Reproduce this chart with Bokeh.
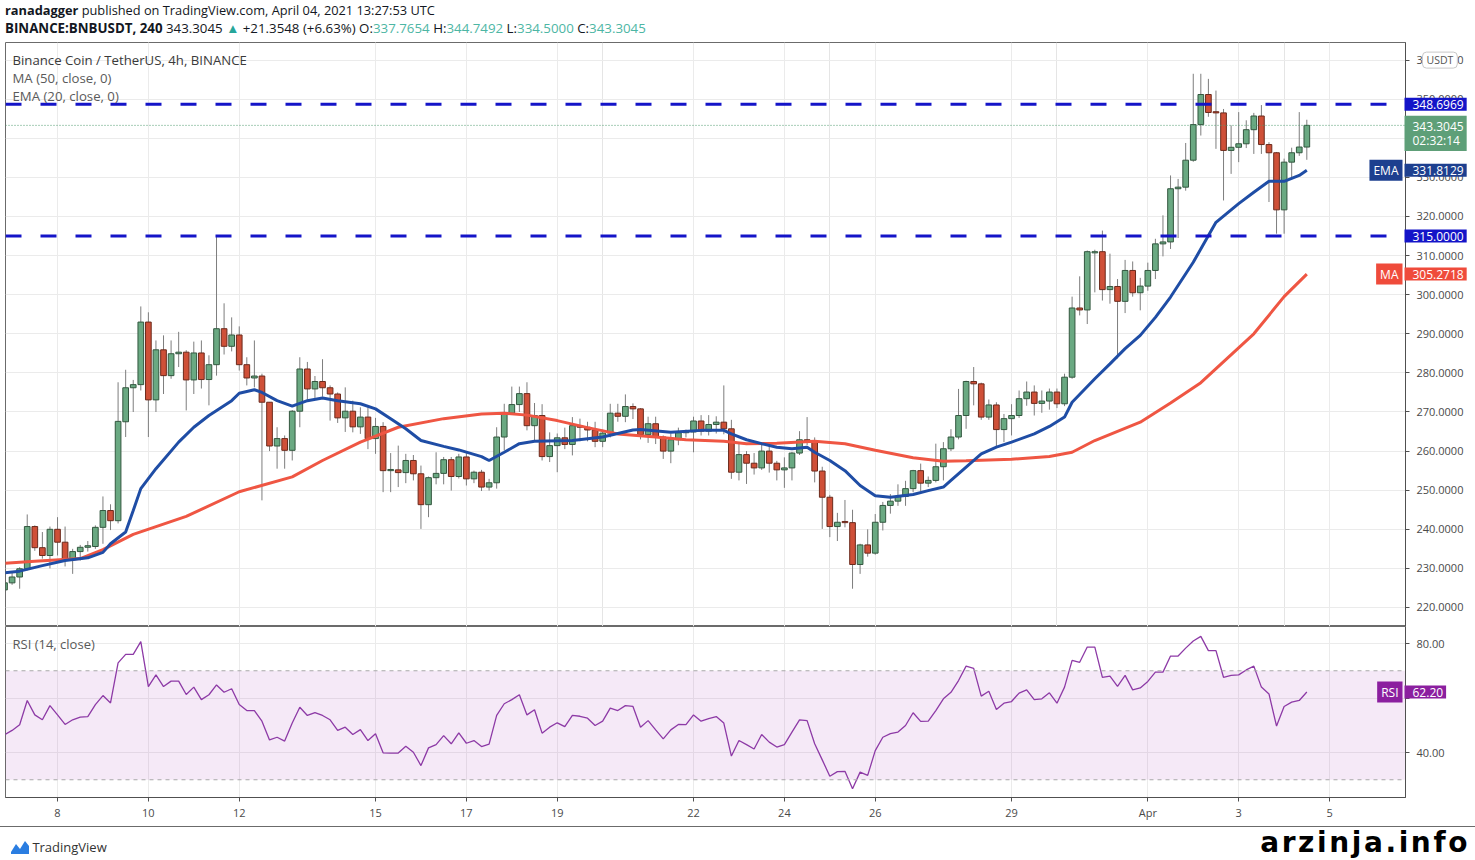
import numpy as np
from bokeh.plotting import figure
from bokeh.models import (Range1d, FixedTicker, Grid, Span, Label, BoxAnnotation,
                          PrintfTickFormatter, Div, ColumnDataSource)
from bokeh.layouts import column
from bokeh.embed import file_html
from bokeh.resources import INLINE

# ---------------- data ----------------
first_bar_day = 6 + 20 / 24      # first bar: 6 March 2021 20:00 UTC, in "day of March" units
bar_hours = 4

opens = [224.5, 226.3, 227.8, 229.9, 240.7, 235.3, 233.3, 240.0, 236.7, 232.2,
         234.3, 235.4, 235.6, 240.5, 244.8, 242.2, 267.5, 276.2, 277.0, 293.0,
         273.1, 285.9, 279.3, 284.9, 285.3, 278.2, 285.1, 278.3, 282.1, 291.3,
         286.8, 289.7, 282.1, 278.7, 279.2, 272.5, 261.3, 263.2, 260.2, 270.2,
         281.0, 275.9, 277.8, 276.2, 274.6, 268.5, 270.2, 266.2, 268.7, 263.2,
         266.3, 255.0, 255.2, 254.5, 257.6, 254.2, 246.3, 253.2, 254.3, 257.8,
         253.5, 258.5, 252.9, 254.6, 250.8, 251.9, 263.6, 269.7, 271.9, 274.7,
         266.5, 269.1, 258.6, 261.4, 263.4, 261.7, 266.5, 266.1, 265.4, 262.5,
         264.6, 269.7, 268.9, 271.4, 270.8, 264.2, 267.0, 263.6, 260.0, 262.9,
         264.7, 264.9, 267.7, 265.1, 266.8, 267.4, 265.7, 254.6, 259.1, 256.9,
         255.7, 260.0, 256.9, 255.2, 255.7, 259.5, 262.9, 262.5, 254.9, 248.2,
         240.7, 241.8, 241.7, 231.0, 236.0, 233.9, 241.8, 246.1, 247.2, 248.4,
         250.4, 255.0, 251.8, 252.5, 256.0, 260.6, 263.6, 269.1, 277.8, 277.2,
         268.7, 271.8, 265.5, 268.3, 269.1, 273.4, 275.1, 272.2, 272.8, 275.1,
         272.1, 278.9, 296.6, 296.1, 310.7, 311.0, 301.3, 302.1, 298.3, 306.2,
         300.5, 302.2, 306.2, 313.0, 313.5, 327.1, 327.5, 334.4, 343.5, 351.2,
         346.6, 346.5, 336.9, 337.7, 338.6, 342.2, 345.7, 338.4, 336.3, 321.7,
         333.9, 336.3, 337.7654]
highs = [227.5, 229.0, 230.3, 243.8, 241.0, 239.3, 240.7, 243.1, 240.7, 235.0,
         236.0, 237.0, 241.0, 248.4, 246.4, 277.6, 280.8, 278.2, 297.0, 295.5,
         288.3, 289.6, 288.3, 290.5, 285.8, 288.0, 288.3, 284.5, 315.0, 297.8,
         294.2, 291.9, 284.0, 288.3, 279.8, 272.5, 266.1, 264.0, 270.5, 284.0,
         282.8, 279.2, 283.5, 276.8, 275.0, 276.3, 272.9, 271.2, 271.2, 268.5,
         267.4, 259.5, 261.4, 259.3, 259.0, 256.3, 253.5, 259.7, 258.5, 258.5,
         259.3, 260.0, 255.0, 255.2, 252.9, 266.1, 272.1, 276.5, 276.5, 277.6,
         272.3, 272.0, 264.8, 264.5, 266.0, 268.7, 268.3, 267.5, 267.5, 265.5,
         272.1, 272.1, 274.5, 272.2, 271.0, 268.8, 268.8, 264.0, 264.5, 266.0,
         265.5, 268.8, 269.2, 269.2, 268.9, 276.8, 268.0, 261.9, 260.0, 259.5,
         262.0, 261.5, 257.5, 258.4, 259.8, 265.1, 268.7, 263.5, 256.0, 248.8,
         244.2, 247.5, 245.0, 236.3, 240.0, 243.9, 247.0, 249.0, 251.5, 252.4,
         255.2, 256.8, 253.5, 261.9, 262.3, 265.6, 275.9, 278.0, 281.5, 277.5,
         273.2, 272.5, 269.5, 272.0, 275.5, 277.8, 276.8, 275.5, 276.0, 276.0,
         279.8, 299.5, 304.7, 311.3, 311.5, 316.4, 310.5, 304.0, 308.9, 308.5,
         304.3, 308.2, 314.3, 320.3, 330.5, 329.6, 338.8, 356.5, 356.5, 355.2,
         352.2, 347.5, 343.3, 346.7, 344.6, 346.5, 348.5, 339.0, 336.5, 334.8,
         337.6, 346.7, 344.7492]
lows = [223.5, 225.8, 224.8, 229.5, 234.5, 232.5, 230.0, 233.3, 230.5, 228.6,
        232.0, 234.3, 235.0, 236.3, 239.8, 241.5, 263.6, 270.0, 275.5, 263.6,
        270.0, 274.6, 278.5, 281.5, 270.4, 274.6, 276.0, 271.7, 279.3, 284.7,
        285.5, 280.6, 276.8, 276.3, 247.4, 260.0, 255.5, 255.5, 257.6, 266.1,
        272.9, 273.6, 273.9, 267.8, 267.2, 264.9, 264.8, 264.4, 260.5, 259.3,
        249.5, 249.5, 250.8, 251.8, 252.5, 240.1, 243.1, 251.5, 251.5, 249.9,
        253.0, 251.2, 251.8, 249.8, 249.9, 250.4, 260.2, 269.3, 270.0, 265.3,
        262.8, 257.6, 257.2, 254.6, 260.5, 258.9, 262.5, 262.5, 261.0, 261.0,
        263.5, 267.5, 267.4, 268.2, 263.0, 262.1, 261.8, 258.0, 256.9, 261.5,
        263.5, 259.7, 264.0, 264.0, 264.5, 264.3, 252.9, 252.5, 251.6, 254.0,
        255.2, 254.5, 252.5, 250.6, 252.5, 259.0, 261.5, 252.0, 240.1, 238.0,
        237.0, 240.5, 224.8, 228.6, 233.0, 233.5, 239.7, 244.0, 246.0, 246.0,
        249.5, 249.8, 250.8, 252.0, 252.5, 260.0, 263.0, 265.7, 271.7, 268.0,
        268.0, 261.0, 262.3, 264.0, 268.5, 271.6, 269.1, 269.8, 270.6, 271.0,
        271.5, 278.5, 294.7, 292.5, 300.6, 298.5, 297.7, 283.7, 295.3, 299.5,
        296.0, 301.0, 304.0, 309.8, 311.7, 314.5, 326.6, 334.0, 340.7, 345.5,
        337.3, 324.1, 330.9, 333.9, 337.5, 336.0, 336.0, 323.7, 315.6, 315.6,
        329.8, 335.5, 334.5]
closes = [226.3, 227.8, 229.9, 240.7, 235.3, 233.3, 240.0, 236.7, 232.2, 234.3,
          235.4, 235.8, 240.5, 244.8, 242.2, 267.6, 276.2, 277.0, 293.0, 273.1,
          285.9, 279.3, 284.9, 285.3, 278.2, 285.1, 278.3, 282.1, 291.3, 286.8,
          289.7, 282.1, 278.7, 279.2, 272.5, 261.3, 263.2, 260.2, 270.2, 281.0,
          275.9, 277.8, 276.2, 274.6, 268.5, 270.2, 266.2, 268.7, 263.2, 266.3,
          255.0, 255.2, 254.5, 257.6, 254.2, 246.3, 253.2, 254.3, 257.8, 253.5,
          258.5, 252.9, 254.6, 250.8, 251.9, 263.6, 269.7, 271.9, 274.7, 266.5,
          269.1, 258.6, 261.4, 263.4, 261.7, 266.5, 266.1, 265.4, 262.5, 264.6,
          269.7, 268.9, 271.4, 270.8, 264.2, 267.0, 263.6, 260.0, 262.9, 264.7,
          264.9, 267.7, 265.1, 266.8, 267.4, 265.7, 254.6, 259.1, 256.9, 255.7,
          260.0, 256.9, 255.2, 255.7, 259.5, 262.9, 262.5, 254.9, 248.2, 240.7,
          241.8, 241.7, 231.0, 236.0, 233.9, 241.8, 246.1, 247.2, 248.4, 250.4,
          255.0, 251.8, 252.5, 256.0, 260.6, 263.6, 269.1, 277.8, 277.2, 268.7,
          271.8, 265.5, 268.3, 269.1, 273.4, 275.1, 272.2, 272.8, 275.1, 272.1,
          278.9, 296.6, 296.1, 311.0, 311.0, 301.3, 302.1, 298.3, 306.2, 300.5,
          302.2, 306.2, 313.0, 313.5, 327.1, 327.5, 334.4, 343.5, 351.2, 346.6,
          346.5, 336.9, 337.7, 338.6, 342.2, 345.7, 338.4, 336.3, 321.7, 333.9,
          336.3, 337.7654, 343.3045]

rsi14 = [46.5, 48.1, 50.2, 59.1, 53.8, 52.0, 57.2, 53.8, 50.3, 52.0,
         53.0, 53.2, 57.6, 60.9, 58.2, 72.9, 76.0, 76.0, 80.7, 64.2,
         68.5, 64.2, 66.2, 66.2, 61.3, 64.0, 59.4, 61.2, 64.8, 62.1,
         63.4, 57.6, 55.4, 55.4, 51.5, 44.6, 45.6, 44.2, 50.8, 56.6,
         53.6, 54.6, 53.6, 52.0, 48.1, 49.3, 46.6, 48.4, 44.4, 46.9,
         39.9, 39.8, 39.8, 42.3, 40.1, 35.2, 41.7, 42.9, 46.2, 43.2,
         47.2, 43.4, 44.4, 42.2, 43.1, 53.6, 57.9, 59.4, 61.2, 53.8,
         55.7, 47.1, 49.3, 50.9, 49.5, 53.6, 53.3, 52.6, 49.9, 51.5,
         56.3, 55.4, 57.2, 56.9, 49.3, 51.7, 48.3, 45.0, 48.3, 50.3,
         50.2, 53.8, 51.5, 52.4, 53.2, 50.8, 38.7, 44.4, 42.9, 41.3,
         46.6, 43.8, 42.0, 42.9, 47.5, 52.0, 51.7, 43.2, 37.3, 31.3,
         33.0, 33.1, 26.7, 32.8, 31.6, 40.7, 45.6, 46.9, 47.5, 49.9,
         54.6, 51.4, 51.5, 55.4, 59.7, 62.1, 66.4, 71.7, 70.9, 60.7,
         62.5, 55.8, 58.1, 58.7, 61.8, 63.0, 59.4, 59.7, 61.9, 58.1,
         64.0, 73.8, 73.1, 78.7, 78.7, 67.6, 68.0, 64.3, 68.3, 63.0,
         63.7, 66.1, 69.5, 69.5, 75.4, 75.4, 78.3, 80.9, 82.6, 77.4,
         77.4, 67.6, 68.3, 68.5, 70.3, 71.7, 64.0, 61.5, 49.7, 56.9,
         58.5, 59.1, 62.2]

# moving averages at these bar numbers
ma50_bar = [0, 4, 10, 13, 17, 24, 31, 38, 42, 47, 52, 58, 63, 66, 69, 73, 77, 81, 86, 90,
            95, 98, 102, 107, 111, 115, 120, 124, 127, 133, 138, 141, 144, 150, 154, 158,
            165, 169, 172]
ma50 = [231.3, 231.8, 232.5, 234.8, 238.7, 243.3, 249.6, 253.4, 257.6, 262.3, 266.1, 268.3,
        269.5, 269.7, 269.2, 267.8, 266.0, 264.4, 263.6, 262.9, 262.5, 261.9, 262.0, 262.5,
        261.9, 260.2, 258.3, 257.4, 257.5, 257.9, 258.6, 259.7, 262.7, 267.4, 272.3, 277.5,
        290.0, 299.5, 305.2718]
ema20_bar = [0, 2, 5, 8, 11, 13, 14, 16, 17, 18, 20, 23, 25, 27, 30, 31, 33, 34, 36, 38,
             40, 42, 44, 47, 49, 51, 53, 55, 58, 60, 63, 64, 66, 68, 70, 75, 79, 83, 84, 88,
             92, 95, 96, 98, 100, 102, 104, 106, 107, 109, 111, 113, 115, 117, 120, 122, 124,
             125, 127, 129, 131, 133, 136, 138, 140, 141, 144, 146, 148, 150, 152, 154, 157,
             160, 163, 165, 167, 169, 171, 172]
ema20 = [228.9, 229.3, 230.7, 232.0, 232.7, 234.1, 236.3, 239.3, 244.8, 250.4,
         255.5, 262.3, 266.1, 269.1, 272.9, 274.8, 275.7, 275.0, 272.9, 271.5,
         272.9, 273.6, 272.9, 272.1, 270.8, 268.3, 265.7, 262.7, 261.2, 260.3,
         258.6, 257.6, 259.7, 261.9, 262.5, 262.7, 263.6, 265.4, 265.5, 264.8,
         265.3, 265.3, 264.4, 262.9, 261.9, 261.0, 260.6, 261.0, 259.7, 257.6,
         255.0, 251.2, 248.6, 248.2, 248.9, 249.9, 250.8, 252.5, 255.9, 259.3,
         261.0, 262.3, 264.4, 266.3, 268.7, 272.5, 278.5, 282.3, 286.2, 289.6,
         294.2, 299.4, 308.3, 318.5, 323.3, 326.2, 329.0, 329.0, 330.5, 331.8129]

resistance = 348.6969
support = 315.0
last_price = 343.3045
ema_last = 331.8129
ma_last = 305.2718
rsi_last = 62.20
rsi_upper, rsi_lower = 70, 30
price_ticks = [220, 230, 240, 250, 260, 270, 280, 290, 300, 310, 320, 330, 340, 350, 360]
rsi_ticks = [40, 60, 80]
rsi_hidden_tick = 60           # its label is covered by the RSI value box
date_ticks = [8, 10, 12, 15, 17, 19, 22, 24, 26, 29, 32, 34, 36]
date_labels = ["8", "10", "12", "15", "17", "19", "22", "24", "26", "29", "Apr", "3", "5"]

# ---------------- styling ----------------
FONT = "Open Sans"
UP_FILL, UP_EDGE = "#6aa982", "#33573f"
DN_FILL, DN_EDGE = "#cf5038", "#6b2a1c"
WICK = "#7d7d7d"
EMA_C = "#1f4da5"
MA_C = "#ef5643"
LEVEL_C = "#1414c8"
GRID_C = "#ebebeb"
AXIS_C = "#505050"
TXT_C = "#4a4a4a"
RSI_C = "#8d3aa6"
RSI_BOX = "#8b1f9f"
FRAME_C = "#6b6b6b"

X0, X1 = 6.855, 37.672
FW = 1400
xr = Range1d(X0, X1)

n = len(closes)
bar_days = bar_hours / 24
xs = first_bar_day + np.arange(n) * bar_days
o = np.array(opens); c = np.array(closes)
up = c >= o
bot = np.minimum(o, c)
top = np.maximum(np.maximum(o, c), bot + 0.3)
src = ColumnDataSource(dict(
    x=xs, high=highs, low=lows, top=top, bot=bot,
    fill=[UP_FILL if u else DN_FILL for u in up],
    edge=[UP_EDGE if u else DN_EDGE for u in up]))


def style_axis(ax, standoff=7):
    ax.major_label_text_font = FONT
    ax.major_label_text_font_size = "11px"
    ax.major_label_text_color = TXT_C
    ax.axis_line_color = AXIS_C
    ax.major_tick_line_color = AXIS_C
    ax.major_tick_out = 4
    ax.major_tick_in = 0
    ax.minor_tick_line_color = None
    ax.major_label_standoff = standoff


def value_box(fig, y, text, bg, fg="white", y_offset=0, line_height=1.2):
    # drawn in the right-hand panel, over the price scale
    fig.add_layout(Label(x=X1, y=y, x_offset=-1, y_offset=y_offset, text=text,
                         text_color=fg, text_font=FONT, text_font_size="12px",
                         text_baseline="middle", text_align="left",
                         background_fill_color=bg,
                         padding=dict(left=8, right=3, top=2, bottom=2),
                         text_line_height=line_height), "right")


def name_box(fig, y, text, bg):
    fig.add_layout(Label(x=X1, y=y, x_offset=-3, text=text, text_color="white",
                         text_font=FONT, text_font_size="12px", text_baseline="middle",
                         text_align="right", background_fill_color=bg,
                         padding=dict(left=4, right=4, top=2, bottom=2)))


# ---------------- price pane ----------------
p = figure(x_range=xr, y_range=Range1d(215.14, 364.5), frame_width=FW, frame_height=584,
           output_backend="svg", toolbar_location=None, x_axis_location=None,
           y_axis_location="right", min_border_left=5, min_border_top=0,
           min_border_bottom=0, min_border_right=65)
p.outline_line_color = FRAME_C
p.background_fill_color = "white"
p.border_fill_color = "white"
p.yaxis.ticker = FixedTicker(ticks=price_ticks)
p.yaxis.formatter = PrintfTickFormatter(format="%.4f")
style_axis(p.yaxis[0], 7)
p.ygrid.grid_line_color = GRID_C
p.add_layout(Grid(dimension=0, ticker=FixedTicker(ticks=date_ticks), grid_line_color=GRID_C))

p.segment(x0="x", y0="low", x1="x", y1="high", source=src, line_color=WICK, line_width=1)
p.vbar(x="x", width=0.125, top="top", bottom="bot", source=src,
       fill_color="fill", line_color="edge", line_width=1)

p.line(first_bar_day + np.array(ma50_bar) * bar_days, ma50, line_color=MA_C, line_width=3)
p.line(first_bar_day + np.array(ema20_bar) * bar_days, ema20, line_color=EMA_C, line_width=3)

for lvl in (resistance, support):
    p.add_layout(Span(location=lvl, dimension="width", line_color=LEVEL_C,
                      line_width=3, line_dash="16 19"))
p.add_layout(Span(location=last_price, dimension="width", line_color="#4f9c71",
                  line_width=1, line_dash="1 2"))

for txt, yv, col in (("Binance Coin / TetherUS, 4h, BINANCE", 360.1, "#3a3a3a"),
                     ("MA (50, close, 0)", 355.3, "#5a5a5a"),
                     ("EMA (20, close, 0)", 350.8, "#5a5a5a")):
    p.add_layout(Label(x=X0, y=yv, x_offset=7, text=txt, text_color=col, text_font=FONT,
                       text_font_size="13.2px", text_baseline="middle"))

p.add_layout(Label(x=X1, y=360, x_offset=17, text="USDT", text_color="#555555",
                   text_font=FONT, text_font_size="10.5px", text_baseline="middle",
                   background_fill_color="white", border_line_color="#c8c8c8",
                   border_radius=4, padding=dict(left=4, right=4, top=1, bottom=1)), "right")
value_box(p, resistance, "348.6969", LEVEL_C)
value_box(p, last_price, "343.3045\n02:32:14", "#5e9f78", y_offset=-8, line_height=0.85)
value_box(p, ema_last, "331.8129", "#1d3f8f")
name_box(p, ema_last, "EMA", "#1d3f8f")
value_box(p, support, "315.0000", LEVEL_C)
value_box(p, ma_last, "305.2718", "#ef4b3b")
name_box(p, ma_last, "MA", "#ef4b3b")

# ---------------- RSI pane ----------------
r = figure(x_range=xr, y_range=Range1d(23.49, 86.24), frame_width=FW, frame_height=171,
           output_backend="svg", toolbar_location=None, y_axis_location="right",
           min_border_left=5, min_border_top=0, min_border_bottom=29, min_border_right=65)
r.outline_line_color = FRAME_C
r.background_fill_color = "white"
r.border_fill_color = "white"
r.add_layout(BoxAnnotation(bottom=rsi_lower, top=rsi_upper, fill_color="#9c27b0",
                           fill_alpha=0.1, line_color=None, level="underlay"))
r.yaxis.ticker = FixedTicker(ticks=rsi_ticks)
r.yaxis.formatter = PrintfTickFormatter(format="%.2f")
r.yaxis.major_label_overrides = {rsi_hidden_tick: ""}
style_axis(r.yaxis[0], 7)
r.xaxis.ticker = FixedTicker(ticks=date_ticks)
r.xaxis.major_label_overrides = {t: l for t, l in zip(date_ticks, date_labels)}
style_axis(r.xaxis[0], 3)
r.xgrid.grid_line_color = GRID_C
r.ygrid.grid_line_color = GRID_C
for lvl in (rsi_upper, rsi_lower):
    r.add_layout(Span(location=lvl, dimension="width", line_color="#a8a8a8",
                      line_width=1, line_dash="4 4"))
r.line(xs, rsi14, line_color=RSI_C, line_width=1.3)
r.add_layout(Label(x=X0, y=79.7, x_offset=7, text="RSI (14, close)", text_color="#5a5a5a",
                   text_font=FONT, text_font_size="13px", text_baseline="middle"))
value_box(r, rsi_last, "62.20", RSI_BOX)
name_box(r, rsi_last, "RSI", RSI_BOX)

# ---------------- header / footer ----------------
teal = "#4db6a4"
header_html = (
    "<div style=\"font-family:'Open Sans',sans-serif;font-size:12.8px;line-height:18px;"
    "color:#131722;padding-top:1px;margin-left:5px;white-space:nowrap\">"
    "<div><b>ranadagger</b> published on TradingView.com, April 04, 2021 13:27:53 UTC</div>"
    "<div style='font-size:13.3px'><b>BINANCE:BNBUSDT, 240</b> 343.3045 "
    "<span style='color:#26a69a'>&#9650;</span> "
    "+21.3548 (+6.63%) O:<span style='color:TEAL'>337.7654</span> "
    "H:<span style='color:TEAL'>344.7492</span> L:<span style='color:TEAL'>334.5000</span> "
    "C:<span style='color:TEAL'>343.3045</span></div></div>").replace("TEAL", teal)
header = Div(width=1475, height=42, margin=(0, 0, 0, 0), text=header_html)

logo = ("<svg width='18' height='14' viewBox='0 0 18 14' style='vertical-align:-2px'>"
        "<path d='M0 12 L5 4 L9 9 L14 1 L18 6 L18 14 L0 14 Z' fill='#2a7de1'/></svg>")
footer = Div(width=1475, height=33, margin=(0, 0, 0, 0), text=(
    "<div style='position:relative;width:1475px;height:33px'>"
    "<div style=\"position:absolute;left:11px;top:12px;font-family:'Open Sans',sans-serif;"
    "font-size:13px;line-height:16px;color:#333\">" + logo + " TradingView</div>"
    "<div style=\"position:absolute;right:5px;top:0px;font-family:'DejaVu Sans',sans-serif;"
    "font-weight:bold;font-size:28px;line-height:32px;letter-spacing:2.6px;color:#000\">"
    "arzinja.info</div></div>"))

panes = column(p, r, spacing=0, styles={"border-right": "1px solid " + FRAME_C,
                                        "border-bottom": "1px solid " + FRAME_C})
layout = column(header, panes, footer, spacing=0)
open("out.html", "w").write(file_html(layout, INLINE))
